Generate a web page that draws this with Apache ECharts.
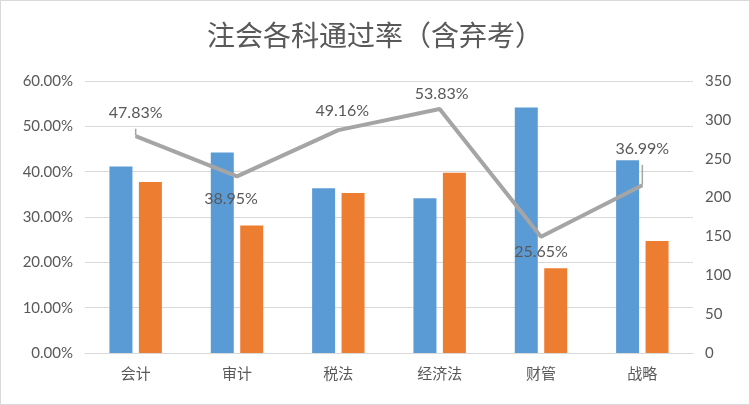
<!DOCTYPE html>
<html><head><meta charset="utf-8">
<script src="https://cdn.jsdelivr.net/npm/echarts@6/dist/echarts.min.js"></script>
<style>html,body{margin:0;padding:0;background:#fff}#c{width:748px;height:403px;border:1px solid #d9d9d9}</style>
</head><body><div id="c"></div>
<script>
var categories = ['会计','审计','税法','经济法','财管','战略'];
var blueValues = [240, 258, 212, 199, 316, 248];
var orangeValues = [220, 164, 206, 232, 109, 144];
var passRates = [47.83, 38.95, 49.16, 53.83, 25.65, 36.99];
var leftTicks = [0, 10, 20, 30, 40, 50, 60];
var rightTicks = [0, 50, 100, 150, 200, 250, 300, 350];
var labelPos = ['top','bottom','top','top','bottom','top'];
var labelDist = [15, 14, 11, 7, 7, 28];
var labelDx = [0, -6, 4, 2, 0, 0];
var leader = [true, false, false, false, false, true];

var txt = '#595959';
var ff = 'Lato, "Noto Sans CJK SC", sans-serif';
var chart = echarts.init(document.getElementById('c'));
chart.setOption({
  animation: false,
  title: {text: '注会各科通过率（含弃考）', left: 'center', top: 15,
    textStyle: {fontSize: 28, fontWeight: 'normal', color: txt, fontFamily: '"Noto Sans CJK SC", sans-serif'}},
  grid: {left: 84, right: 56, top: 80, bottom: 51},
  xAxis: {type: 'category', data: categories,
    axisLine: {lineStyle: {color: '#d9d9d9'}}, axisTick: {show: false},
    axisLabel: {color: txt, fontSize: 15, margin: 14, fontFamily: ff}},
  yAxis: [
    {type: 'value', min: leftTicks[0], max: leftTicks[leftTicks.length-1], interval: 10,
      axisLabel: {color: txt, fontSize: 15, margin: 12, fontFamily: ff, formatter: function(v){return v.toFixed(2)+'%';}},
      splitLine: {lineStyle: {color: '#d9d9d9'}}, axisLine: {show: false}, axisTick: {show: false}},
    {type: 'value', min: rightTicks[0], max: rightTicks[rightTicks.length-1], interval: 50,
      axisLabel: {color: txt, fontSize: 15, margin: 12, fontFamily: ff},
      splitLine: {show: false}, axisLine: {show: false}, axisTick: {show: false}}
  ],
  series: [
    {type: 'bar', yAxisIndex: 1, data: blueValues, barWidth: 23, barGap: '28%',
      itemStyle: {color: '#5b9bd5'}},
    {type: 'bar', yAxisIndex: 1, data: orangeValues, barWidth: 23,
      itemStyle: {color: '#ed7d31'}},
    {type: 'line', yAxisIndex: 0, symbol: 'circle', symbolSize: 1, showSymbol: true, z: 5,
      itemStyle: {color: '#a5a5a5'},
      lineStyle: {color: '#a5a5a5', width: 4},
      data: passRates.map(function(v, i){
        return {value: v,
          label: {show: true, position: labelPos[i], distance: labelDist[i], offset: [labelDx[i], 0]},
          labelLine: {show: leader[i], lineStyle: {color: '#a5a5a5', width: 1.5}}};
      }),
      labelLine: {show: false, length2: 0, minTurnAngle: 0},
      label: {show: true, color: txt, fontSize: 16, fontFamily: ff,
        formatter: function(p){return p.value.toFixed(2)+'%';}}
    }
  ]
});
</script></body></html>
